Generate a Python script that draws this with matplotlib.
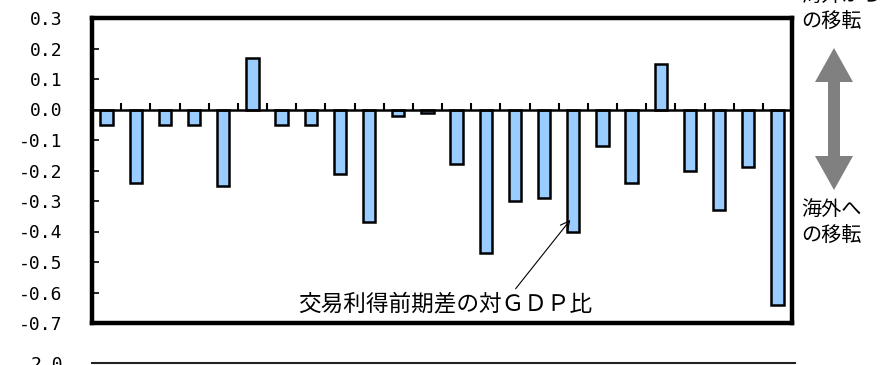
import matplotlib
matplotlib.use('Agg')
import matplotlib.pyplot as plt
from matplotlib.patches import Polygon
import numpy as np

plt.rcParams['font.family'] = ['Noto Sans CJK JP', 'DejaVu Sans']

# 交易利得前期差の対GDP比 (%)
VALUES = [-0.05, -0.24, -0.05, -0.05, -0.25, 0.17, -0.05, -0.05,
          -0.21, -0.37, -0.02, -0.01, -0.18, -0.47, -0.30, -0.29,
          -0.40, -0.12, -0.24, 0.15, -0.20, -0.33, -0.19, -0.64]
YTICKS = [0.3, 0.2, 0.1, 0.0, -0.1, -0.2, -0.3, -0.4, -0.5, -0.6, -0.7]
YTICK_LABELS = ['0.3', '0.2', '0.1', '0.0', '-0.1', '-0.2', '-0.3',
                '-0.4', '-0.5', '-0.6', '-0.7']
ANNOT = '交易利得前期差の対ＧＤＰ比'
TOP_LABEL = '海外から\nの移転'
BOTTOM_LABEL = '海外へ\nの移転'

W, H = 882, 365
fig = plt.figure(figsize=(W / 100, H / 100), dpi=100)

def fx(px):
    return px / W

def fy(py):
    return 1 - py / H

TICK_FONT = dict(fontfamily='DejaVu Sans Mono', fontsize=13)

ax = fig.add_axes([fx(92), fy(323), fx(792) - fx(92), fy(18) - fy(323)])
x = np.arange(len(VALUES))
ax.bar(x, VALUES, width=0.42, color='#99CCFF', edgecolor='black', linewidth=1.8, zorder=3)
ax.axhline(0, color='black', lw=1.8, zorder=4)
# small upward ticks on the zero line at category boundaries
ax.vlines(x[1:] - 0.5, 0, 0.02, color='black', lw=1.5, zorder=4)

ax.set_xlim(-0.5, len(VALUES) - 0.5)
ax.set_ylim(-0.7, 0.3)
ax.set_xticks([])
ax.set_yticks(YTICKS)
ax.set_yticklabels(YTICK_LABELS, **TICK_FONT)
ax.tick_params(axis='y', direction='in', length=5, width=1.2, pad=21)
for s in ax.spines.values():
    s.set_linewidth(3.2)

ax.annotate(ANNOT, xy=(15.9, -0.362), xytext=(11.6, -0.638),
            ha='center', va='center', fontsize=16.3,
            arrowprops=dict(arrowstyle='->', color='black', lw=0.8,
                            relpos=(0.73, 1.0), shrinkA=1, shrinkB=0))

# right side direction labels and double arrow
fig.text(fx(801), fy(32), TOP_LABEL, ha='left', va='bottom', fontsize=14.5,
         linespacing=1.3)
fig.text(fx(801), fy(199), BOTTOM_LABEL, ha='left', va='top', fontsize=14.5,
         linespacing=1.3)
c, sw, hw = 834, 6, 19
top, top_base, bot_base, bot = 48, 82, 156, 190
arrow_px = [(c, top), (c + hw, top_base), (c + sw, top_base), (c + sw, bot_base),
            (c + hw, bot_base), (c, bot), (c - hw, bot_base), (c - sw, bot_base),
            (c - sw, top_base), (c - hw, top_base)]
fig.add_artist(Polygon([(fx(px), fy(py)) for px, py in arrow_px], closed=True,
                       transform=fig.transFigure, facecolor='#808080', lw=0))

# top of the next panel, cut off by the picture edge
ax2 = fig.add_axes([fx(92), fy(363) - 0.5, fx(795) - fx(92), 0.5])
ax2.set_ylim(-2.0, 2.0)
ax2.set_yticks([2.0])
ax2.set_yticklabels(['2.0'], **TICK_FONT)
ax2.set_xticks([])
ax2.tick_params(axis='y', length=0, pad=21)
for k in ['left', 'right', 'bottom']:
    ax2.spines[k].set_visible(False)
ax2.spines['top'].set_linewidth(1.5)
ax2.spines['top'].set_color('#222222')
ax2.patch.set_alpha(0)

fig.savefig('out.png', dpi=100)
